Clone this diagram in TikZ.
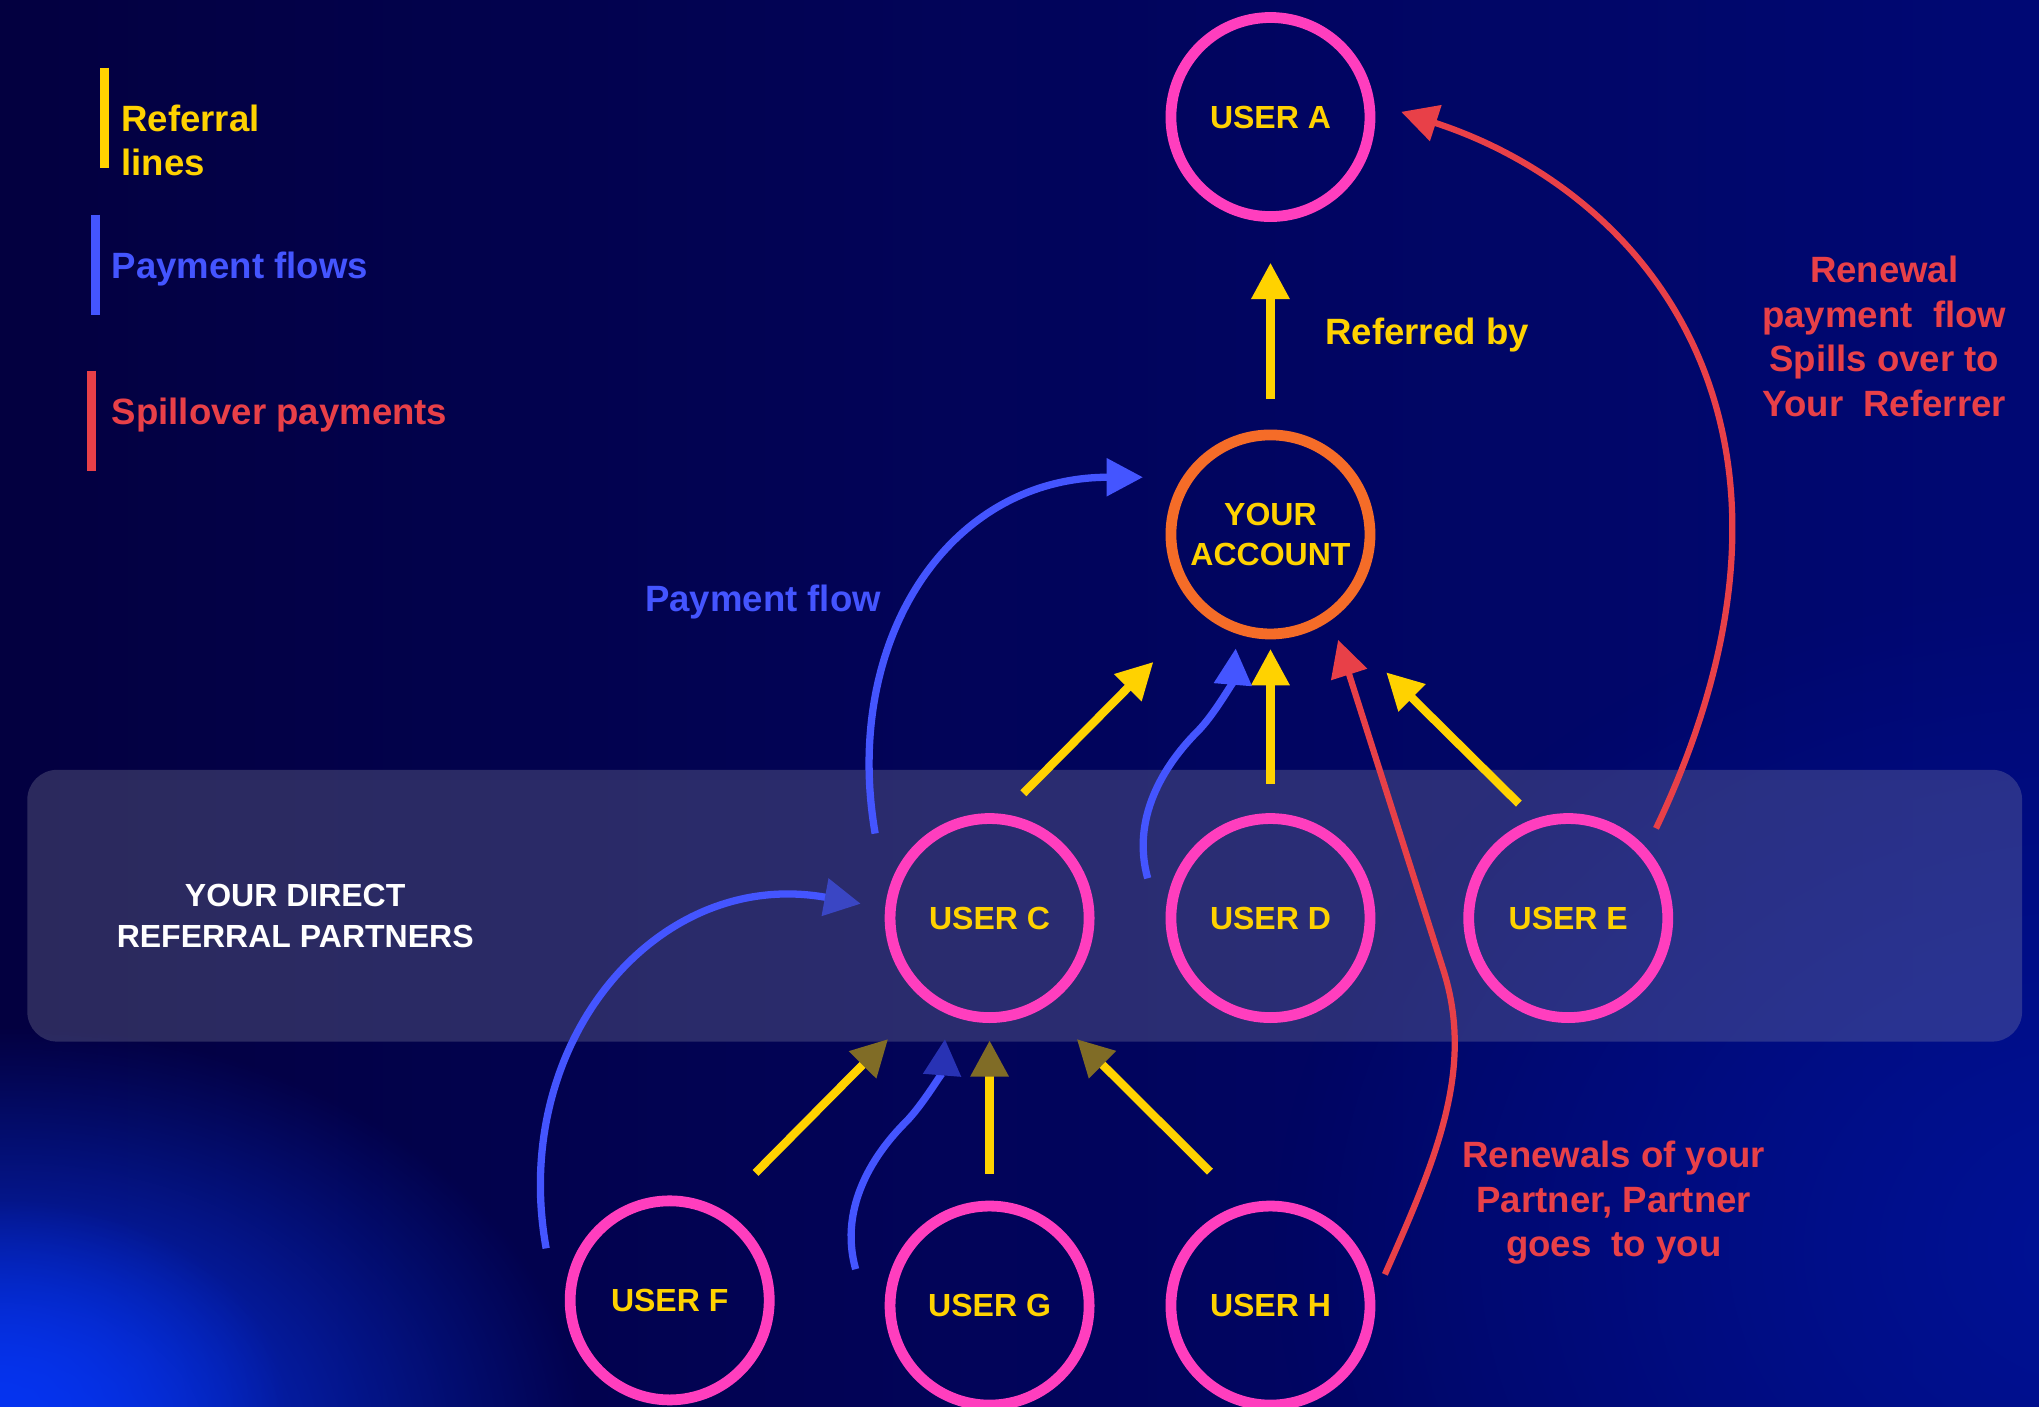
\documentclass[tikz,border=0pt]{standalone}
\usepackage{fontspec}
\setmainfont{Liberation Sans}
\usetikzlibrary{arrows.meta,calc,fadings}

\definecolor{bgleft}{RGB}{3,0,64}
\definecolor{bgright}{RGB}{0,8,116}
\definecolor{glowblue}{RGB}{6,52,240}
\definecolor{glowright}{RGB}{0,18,150}
\definecolor{bandgray}{RGB}{165,165,178}
\definecolor{refyellow}{RGB}{255,210,0}
\definecolor{payblue}{RGB}{68,85,255}
\definecolor{spillred}{RGB}{232,64,72}
\definecolor{userpink}{RGB}{255,62,190}
\definecolor{accorange}{RGB}{245,108,40}
\definecolor{headolive}{RGB}{128,108,38}
\definecolor{headnavy}{RGB}{40,50,180}
\definecolor{headslate}{RGB}{58,70,196}

\newcommand{\userfont}{\fontsize{7}{8.8}\selectfont\bfseries}
\newcommand{\lblfont}{\fontsize{8}{9.8}\selectfont\bfseries}

\tikzfading[name=glowfade, inner color=transparent!0, outer color=transparent!100]

\begin{document}
\begin{tikzpicture}[
        %One unit is one pixel of the layout, y grows downwards
        x=0.01cm, y=-0.01cm,
        user/.style={circle, draw=userpink, line width=.083cm, minimum size=1.53cm,
            inner sep=0pt, text=refyellow, font=\userfont, align=center},
        lbl/.style={font=\lblfont, inner sep=0pt},
        referral/.style={refyellow, line width=.064cm, -{Triangle[length=.28cm,width=.28cm]}},
        payment/.style={payblue, line width=.056cm, -{Triangle[length=.28cm,width=.28cm]}},
        spill/.style={spillred, line width=.048cm, -{Triangle[length=.28cm,width=.28cm]}},
        dim head/.style={-{Triangle[length=.28cm,width=.28cm,color=#1]}},
        legend bar/.style={line width=.07cm}
     ]
    \useasboundingbox (0,0) rectangle (1568,1082);

    % Background with the two glows
    \shade[left color=bgleft, right color=bgright] (0,0) rectangle (1568,1082);
    \fill[glowblue, path fading=glowfade] (10,1110) ellipse (440 and 320);
    \fill[glowblue, path fading=glowfade] (0,1082) ellipse (220 and 160);
    \fill[glowright, path fading=glowfade] (1620,960) ellipse (640 and 520);

    % Band of the direct partners
    \fill[bandgray, fill opacity=.25, rounded corners=.23cm] (21,592) rectangle (1555,801);
    \node[font=\userfont, text=white, align=center, inner sep=0pt] (partners)
        at (227,704.4) {YOUR DIRECT\\REFERRAL PARTNERS};

    % Legend (the base of a text in lines is its last line)
    \draw[legend bar, refyellow] (80.5,52) -- (80.5,129);
    \draw[legend bar, payblue] (73.5,165) -- (73.5,242);
    \draw[legend bar, spillred] (70.5,285) -- (70.5,362);
    \node[lbl, refyellow, anchor=base west, align=left] (legref) at (92.7,135.3) {Referral\\lines};
    \node[lbl, payblue, anchor=base west] (legpay) at (85.3,214) {Payment flows};
    \node[lbl, spillred, anchor=base west] (legspill) at (85.3,326.8) {Spillover payments};

    % The users
    \node[user] (userA) at (977,90) {USER A};
    \node[user, draw=accorange] (account) at (977,411) {YOUR\\ACCOUNT};
    \node[user] (userC) at (761,706) {USER C};
    \node[user] (userD) at (977,706) {USER D};
    \node[user] (userE) at (1206,706) {USER E};
    \node[user] (userF) at (515,1000) {USER F};
    \node[user] (userG) at (761,1004) {USER G};
    \node[user] (userH) at (977,1004) {USER H};

    % Referral lines
    \draw[referral] ($(account)+(0,-104)$) -- ($(userA)+(0,112)$);
    \draw[referral] ($(userC)+(26,-96)$) -- ($(account)+(-90,98)$);
    \draw[referral] ($(userD)+(0,-103)$) -- ($(account)+(0,88)$);
    \draw[referral] ($(userE)+(-38,-88)$) -- ($(account)+(89,106)$);
    \draw[referral, dim head=headolive] ($(userF)+(66,-98)$) -- ($(userC)+(-78,93)$);
    \draw[referral, dim head=headolive] ($(userG)+(0,-101)$) -- ($(userC)+(0,94)$);
    \draw[referral, dim head=headolive] ($(userH)+(-46.5,-103)$) -- ($(userC)+(67,93)$);

    % Payment flows
    \draw[payment] ($(userC)+(-88,-65)$) .. controls +(-25.5,-148) and +(-150,0) .. ($(account)+(-98,-44)$);
    \draw[payment] ($(userD)+(-94.4,-30.6)$) .. controls +(-14,-50) and +(-21.2,21.2) .. ($(userD)+(-56,-143.6)$)
        .. controls +(12.7,-12.7) and +(-2,25) .. ($(account)+(-26.7,87.6)$);
    \draw[payment, dim head=headnavy] ($(userG)+(-103,-28)$) .. controls +(-14,-50) and +(-21.2,21.2) .. ($(userG)+(-64.6,-141)$)
        .. controls +(12.7,-12.7) and +(-2,25) .. ($(userC)+(-34.3,93)$);
    \draw[payment, dim head=headslate] ($(userF)+(-95,-40)$) .. controls +(-28.5,-157.4) and +(-157.3,-28.8) .. ($(userC)+(-99,-11)$);

    % Spillover payments
    \draw[spill] ($(userE)+(67.5,-69)$) .. controls +(145.5,-306) and +(190.5,62) .. ($(userA)+(100.5,-4)$);
    \draw[spill] ($(userH)+(88,-24)$) .. controls +(40,-90) and +(24,76) .. ($(userH)+(133,-258)$)
        -- ($(account)+(52,81)$);

    % Texts along the arrows
    \node[lbl, refyellow, anchor=base west] (referred) at (1018.6,265) {Referred by};
    \node[lbl, payblue, anchor=base west] (payflow) at (495.4,470.4) {Payment flow};
    \node[lbl, spillred, align=center, anchor=base] (spilltext) at (1449,320.5)
        {Renewal\\payment\ \ flow\\Spills over to\\Your\ \ Referrer};
    \node[lbl, spillred, align=center, anchor=base] (renewtext) at (1241,966.5)
        {Renewals of your\\Partner, Partner\\goes\ \ to you};
\end{tikzpicture}
\end{document}
